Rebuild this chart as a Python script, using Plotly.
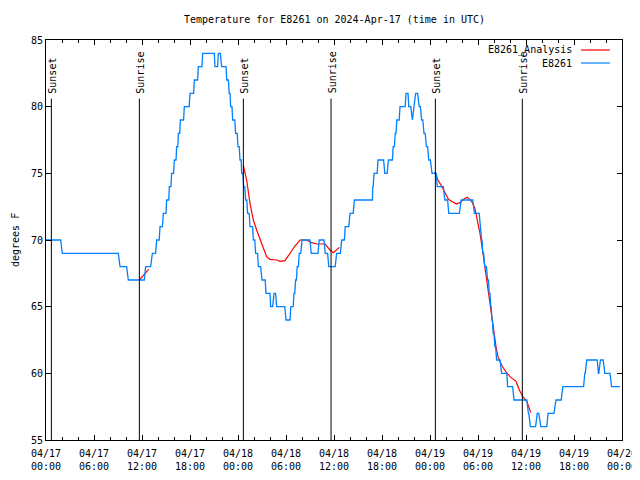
import pandas as pd
import plotly.graph_objects as go

BASE = pd.Timestamp("2024-04-17 00:00")

# Observed station temperature, as flat levels: (start hour, end hour, deg F)
blue_levels = [
    (0.00, 1.83, 70), (2.04, 9.04, 69), (9.25, 10.08, 68), (10.29, 12.29, 67),
    (12.45, 13.08, 68), (13.3, 13.7, 69), (13.83, 14.15, 70), (14.25, 14.55, 71),
    (14.67, 15.0, 72), (15.08, 15.35, 73), (15.42, 15.62, 74), (15.7, 15.95, 75),
    (16.04, 16.25, 76), (16.33, 16.48, 77), (16.54, 16.72, 78), (16.79, 17.2, 79),
    (17.29, 17.9, 80), (18.0, 18.45, 81), (18.54, 18.95, 82), (19.04, 19.5, 83),
    (19.58, 21.04, 84), (21.12, 21.45, 83), (21.54, 21.79, 84), (21.96, 22.5, 83),
    (22.6, 22.8, 82), (22.9, 23.0, 81), (23.08, 23.25, 80), (23.33, 23.6, 79),
    (23.7, 23.9, 78), (24.0, 24.15, 77), (24.25, 24.4, 76), (24.46, 24.62, 75),
    (24.7, 24.85, 74), (24.95, 25.1, 73), (25.2, 25.4, 72), (25.5, 25.82, 71),
    (25.92, 26.1, 70), (26.2, 26.45, 69), (26.54, 26.83, 68), (27.0, 27.4, 67),
    (27.5, 28.0, 66), (28.08, 28.33, 65), (28.5, 28.7, 66), (28.83, 29.85, 65),
    (30.0, 30.5, 64), (30.6, 30.9, 65), (31.0, 31.1, 66), (31.2, 31.3, 67),
    (31.4, 31.55, 68), (31.65, 31.85, 69), (32.0, 33.0, 70), (33.15, 34.0, 69),
    (34.15, 34.75, 70), (34.9, 35.2, 69), (35.35, 36.15, 68), (36.33, 36.8, 69),
    (36.96, 37.3, 70), (37.4, 37.85, 71), (38.0, 38.4, 72), (38.55, 40.8, 73),
    (40.85, 40.9, 74), (41.0, 41.4, 75), (41.5, 42.2, 76), (42.35, 42.65, 75),
    (42.8, 43.3, 76), (43.4, 43.55, 77), (43.65, 43.75, 78), (43.85, 44.15, 79),
    (44.25, 44.9, 80), (45.0, 45.25, 81), (45.35, 45.6, 80), (45.8, 45.8, 79),
    (46.0, 46.05, 80), (46.2, 46.45, 81), (46.65, 46.8, 80), (46.95, 47.1, 79),
    (47.25, 47.4, 78), (47.55, 47.7, 77), (47.85, 48.05, 76), (48.25, 48.8, 75),
    (48.9, 49.67, 74), (49.85, 50.2, 73), (50.35, 51.67, 72), (51.9, 53.35, 73),
    (53.55, 54.15, 72), (54.25, 54.3, 71), (54.45, 54.5, 70), (54.6, 54.7, 69),
    (54.85, 55.05, 68), (55.2, 55.3, 67), (55.4, 55.5, 66), (55.6, 55.65, 65),
    (55.75, 55.8, 64), (55.9, 56.0, 63), (56.1, 56.2, 62), (56.33, 56.75, 61),
    (56.95, 57.6, 60), (57.7, 58.33, 59), (58.5, 60.1, 58), (60.3, 60.35, 57),
    (60.55, 61.2, 56), (61.4, 61.6, 57), (61.85, 62.6, 56), (62.75, 63.5, 57),
    (63.75, 64.4, 58), (64.6, 67.2, 59), (67.35, 67.4, 60), (67.6, 68.9, 61),
    (69.05, 69.1, 60), (69.3, 69.65, 61), (69.85, 70.5, 60), (70.7, 71.75, 59),
]

# Analysis series, three separate segments: (hour, deg F)
red_seg1 = [(11.67, 67.0), (12.25, 67.4), (12.83, 67.8)]
red_seg2 = [(24.67, 75.6), (25.08, 74.5), (25.5, 72.75), (25.92, 71.5), (26.33, 70.75),
            (26.75, 70.0), (27.17, 69.4), (27.58, 68.75), (28.0, 68.55), (28.83, 68.5),
            (29.25, 68.4), (29.875, 68.45), (30.5, 69.0), (31.125, 69.55), (31.75, 70.0),
            (32.58, 70.0), (33.2, 69.8), (33.83, 69.7), (34.875, 69.7), (35.5, 69.25),
            (35.92, 69.05), (36.33, 69.3), (36.67, 69.45)]
red_seg3 = [(48.6, 75.1), (49.0, 74.5), (49.5, 74.0), (49.9, 73.5), (50.3, 73.05),
            (50.7, 72.9), (51.3, 72.7), (51.75, 72.8), (52.2, 73.05), (52.67, 73.2),
            (53.2, 72.9), (53.6, 72.4), (53.9, 71.6), (54.25, 70.5), (54.6, 69.1),
            (54.9, 67.75), (55.2, 66.5), (55.5, 65.25), (55.75, 64.25), (56.0, 63.0),
            (56.25, 62.0), (56.5, 61.25), (56.96, 60.6), (57.5, 60.1), (58.0, 59.75),
            (58.75, 59.4), (59.17, 58.75), (59.6, 58.25), (60.1, 57.9), (60.6, 57.05)]

sun_hours = [0.67, 11.67, 24.67, 35.63, 48.67, 59.54]
sun_labels = ["Sunset", "Sunrise", "Sunset", "Sunrise", "Sunset", "Sunrise"]
sun_line_top = 80.6
sun_label_base = 80.85

tick_hours = list(range(0, 73, 6))
tick_labels = ["04/17<br>00:00", "04/17<br>06:00", "04/17<br>12:00", "04/17<br>18:00",
               "04/18<br>00:00", "04/18<br>06:00", "04/18<br>12:00", "04/18<br>18:00",
               "04/19<br>00:00", "04/19<br>06:00", "04/19<br>12:00", "04/19<br>18:00",
               "04/20<br>00:00"]
y_ticks = [55, 60, 65, 70, 75, 80, 85]

title_text = "Temperature for E8261 on 2024-Apr-17 (time in UTC)"
series_names = ["E8261_Analysis", "E8261"]
BLUE = "#0080ff"
RED = "#ff0000"
FONT = "DejaVu Sans Mono"


def t(h):
    return BASE + pd.to_timedelta(h, unit="h")


bx, by = [], []
for s, e, v in blue_levels:
    bx.append(t(s)); by.append(v)
    if e != s:
        bx.append(t(e)); by.append(v)

rx, ry = [], []
for seg in (red_seg1, red_seg2, red_seg3):
    for h, v in seg:
        rx.append(t(h)); ry.append(v)
    rx.append(None); ry.append(None)

fig = go.Figure()
fig.add_trace(go.Scatter(x=rx, y=ry, mode="lines", name=series_names[0],
                         line=dict(color=RED, width=1.2), connectgaps=False))
fig.add_trace(go.Scatter(x=bx, y=by, mode="lines", name=series_names[1],
                         line=dict(color=BLUE, width=1.3)))

for h, lab in zip(sun_hours, sun_labels):
    fig.add_shape(type="line", xref="x", yref="y", x0=t(h), x1=t(h),
                  y0=55, y1=sun_line_top, line=dict(color="black", width=1))
    fig.add_annotation(x=t(h), y=sun_label_base, xref="x", yref="y", text=lab,
                       textangle=-90, showarrow=False, xanchor="center", yanchor="bottom",
                       xshift=1, font=dict(family=FONT, size=10, color="black"))

# legend drawn gnuplot-style (text right, sample line after it)
leg_rows = [(0.975, RED), (0.9425, BLUE)]
for (yp, col), name in zip(leg_rows, series_names):
    fig.add_annotation(x=0.9167, y=yp, xref="paper", yref="paper", text=name,
                       showarrow=False, xanchor="right", yanchor="middle",
                       font=dict(family=FONT, size=10, color="black"))
    fig.add_shape(type="line", xref="paper", yref="paper", x0=0.9288, x1=0.979,
                  y0=yp, y1=yp, line=dict(color=col, width=1.2))

fig.add_annotation(x=-31 / 576, y=0.5, xref="paper", yref="paper",
                   text="degrees F", textangle=-90, showarrow=False,
                   xanchor="center", yanchor="middle",
                   font=dict(family=FONT, size=10, color="black"))
fig.add_annotation(x=0.5, y=1.05, xref="paper", yref="paper",
                   text=title_text, showarrow=False, xanchor="center", yanchor="middle",
                   font=dict(family=FONT, size=10, color="black"))

fig.update_layout(
    width=640, height=480,
    margin=dict(l=38, r=26, t=32, b=48),
    paper_bgcolor="white", plot_bgcolor="white",
    showlegend=False,
    font=dict(family=FONT, size=10, color="black"),
    xaxis=dict(
        range=[t(0), t(72)], tickvals=[t(h) for h in tick_hours], ticktext=tick_labels,
        ticks="inside", ticklen=5, tickcolor="black", showgrid=False, zeroline=False,
        showline=True, linecolor="black", linewidth=1, mirror="allticks",
        tickangle=0, ticklabelstandoff=4,
        tickfont=dict(family=FONT, size=10, color="black"),
        minor=dict(dtick=2 * 3600 * 1000, tick0=t(0), ticks="inside", ticklen=3,
                   tickcolor="black", showgrid=False),
    ),
    yaxis=dict(
        range=[55, 85], tickvals=y_ticks, ticks="inside", ticklen=5, tickcolor="black",
        showgrid=False, zeroline=False, showline=True, linecolor="black", linewidth=1,
        mirror="allticks", tickfont=dict(family=FONT, size=10, color="black"),
    ),
)

fig.write_html("out.html")
